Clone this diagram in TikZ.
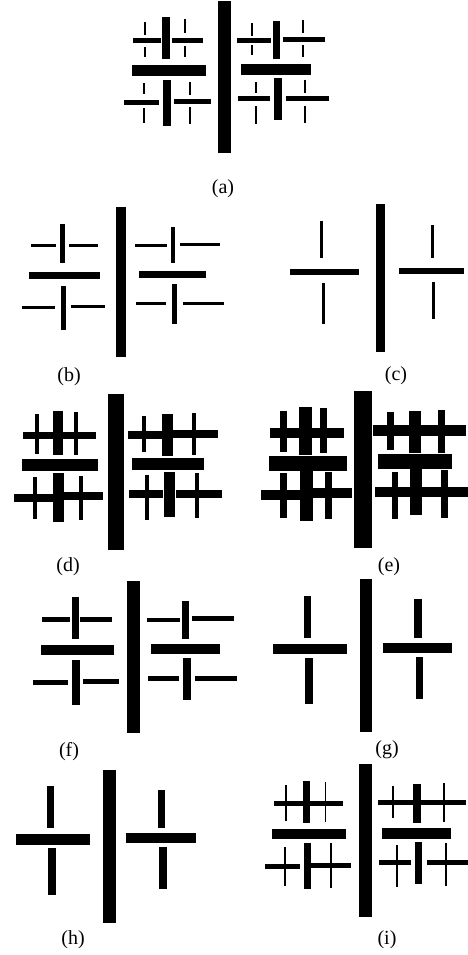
\documentclass[tikz,border=0pt]{standalone}
\usepackage{fontspec}
\setmainfont{Liberation Serif}

\begin{document}
\begin{tikzpicture}[x=1pt,y=-1pt,
    tag/.style={font=\fontsize{20}{24}\selectfont, inner sep=0pt}]
  \useasboundingbox (0,0) rectangle (468,955);
  % (a)
  \foreach \xa/\ya/\xb/\yb in {218/1/231/153,
      132/65/206/76, 162/17/170/59, 163/80/171/126,
      133/38/161/43, 172/38/203/43, 124/100/159/105, 174/99/211/104,
      144/22/146/35, 144/47/146/57, 183.5/19/185.5/33, 183.5/46/185.5/57,
      143/83/145/94, 143/108/145/123, 189/82/191/95, 189/107/191/124,
      241/64/311/75, 273/21/280/59, 274/78/282/120,
      237/38/271/43, 283/37/325/42, 238/96/270/101, 286/96/329/101,
      251/23/253/36, 251/45/253/55, 302/20/304/33, 302/45/304/57,
      255/82/257/93, 255/106/257/124, 304/80/306/93, 304/106/306/123}
    \fill (\xa,\ya) rectangle (\xb,\yb);
  \node[tag] (la) at (223,189) {(a)};
  % (b)
  \foreach \xa/\ya/\xb/\yb in {116/207/126/357,
      29/272/100/279, 60/224/65/263, 61/286/66/330,
      31/244/56/247, 69/244/98/247, 22/306/55/309, 71/305/105/308,
      139/271/206/278, 171/227/175/263, 172/284/177/324,
      135/244/167/247, 180/243/220/246, 136/302/166/305, 183/302/224/305}
    \fill (\xa,\ya) rectangle (\xb,\yb);
  \node[tag] (lb) at (69,377) {(b)};
  % (c)
  \foreach \xa/\ya/\xb/\yb in {376/204/385/352,
      290/269/359/275, 320/221/323/258, 322/283/325/324,
      399/268/464/274, 431/225/434/258, 432/282/435/319}
    \fill (\xa,\ya) rectangle (\xb,\yb);
  \node[tag] (lc) at (396,376) {(c)};
  % (d)
  \foreach \xa/\ya/\xb/\yb in {108/394/124/550,
      22/459/98/471, 53/411/63/455, 53/473/64/522,
      23/432/96/439, 14/494/53/502, 64/492/103/500,
      35/414/39/454, 74/412/78/455, 33/477/37/519, 79/476/83/520,
      132/458/204/470, 162/414/173/456, 164/472/175/517,
      128/431/163/439, 173/430/218/438, 129/490/163/498, 176/490/222/498,
      142/416/146/452, 192/413/196/455, 145/475/149/520, 195/473/199/518}
    \fill (\xa,\ya) rectangle (\xb,\yb);
  \node[tag] (ld) at (68,567) {(d)};
  % (e)
  \foreach \xa/\ya/\xb/\yb in {354/391/372/548,
      269/456/347/471, 299/407/312/455, 300/471/313/521,
      270/428/344/438, 261/490/300/500, 300/488/352/498,
      280/411/287/452, 320/408/327/453, 280/473/287/518, 325/472/332/519,
      378/454/452/469, 409/411/421/453, 410/469/422/515,
      373/425/466/436, 375/487/468/497,
      387/412/394/450, 438/410/445/453, 392/472/398/519, 441/470/448/518}
    \fill (\xa,\ya) rectangle (\xb,\yb);
  \node[tag] (le) at (389,567) {(e)};
  % (f)
  \foreach \xa/\ya/\xb/\yb in {127/581/140/733,
      41/645/114/655, 72/597/79/639, 72/660/80/705,
      42/617/70/622, 80/617/112/622, 33/680/68/685, 83/679/119/684,
      151/644/220/654, 182/601/189/639, 183/658/191/700,
      147/618/180/622, 192/616/234/621, 148/676/179/681, 195/676/237/681}
    \fill (\xa,\ya) rectangle (\xb,\yb);
  \node[tag] (lf) at (69,752) {(f)};
  % (g)
  \foreach \xa/\ya/\xb/\yb in {360/579/372/732,
      273/644/347/654, 304/596/311/638, 305/658/313/704,
      383/643/452/653, 414/599/422/638, 416/657/423/699}
    \fill (\xa,\ya) rectangle (\xb,\yb);
  \node[tag] (lg) at (387,750) {(g)};
  % (h)
  \foreach \xa/\ya/\xb/\yb in {103/770/116/923,
      16/834/90/845, 47/786/54/828, 48/848/56/895,
      126/833/196/843, 158/790/165/828, 159/847/167/889}
    \fill (\xa,\ya) rectangle (\xb,\yb);
  \node[tag] (lh) at (73,940) {(h)};
  % (i)
  \foreach \xa/\ya/\xb/\yb in {359/764/372/917,
      272/829/346/839, 303/781/310/823, 304/843/311/889,
      274/801/343/806, 265/864/300/869, 311/863/351/868,
      285/785/286.7/821, 324.5/782/326.2/822, 284/847/285.7/886, 330/843/331.7/888,
      382/828/451/839, 413/784/421/823, 415/842/422/884,
      378/800/466/805, 379/860/411/865, 427/860/468/865,
      392/786/393.7/818, 443/783/444.7/822, 396/845/397.7/887, 445/843/446.7/886}
    \fill (\xa,\ya) rectangle (\xb,\yb);
  \node[tag] (li) at (387,940) {(i)};
\end{tikzpicture}
\end{document}
